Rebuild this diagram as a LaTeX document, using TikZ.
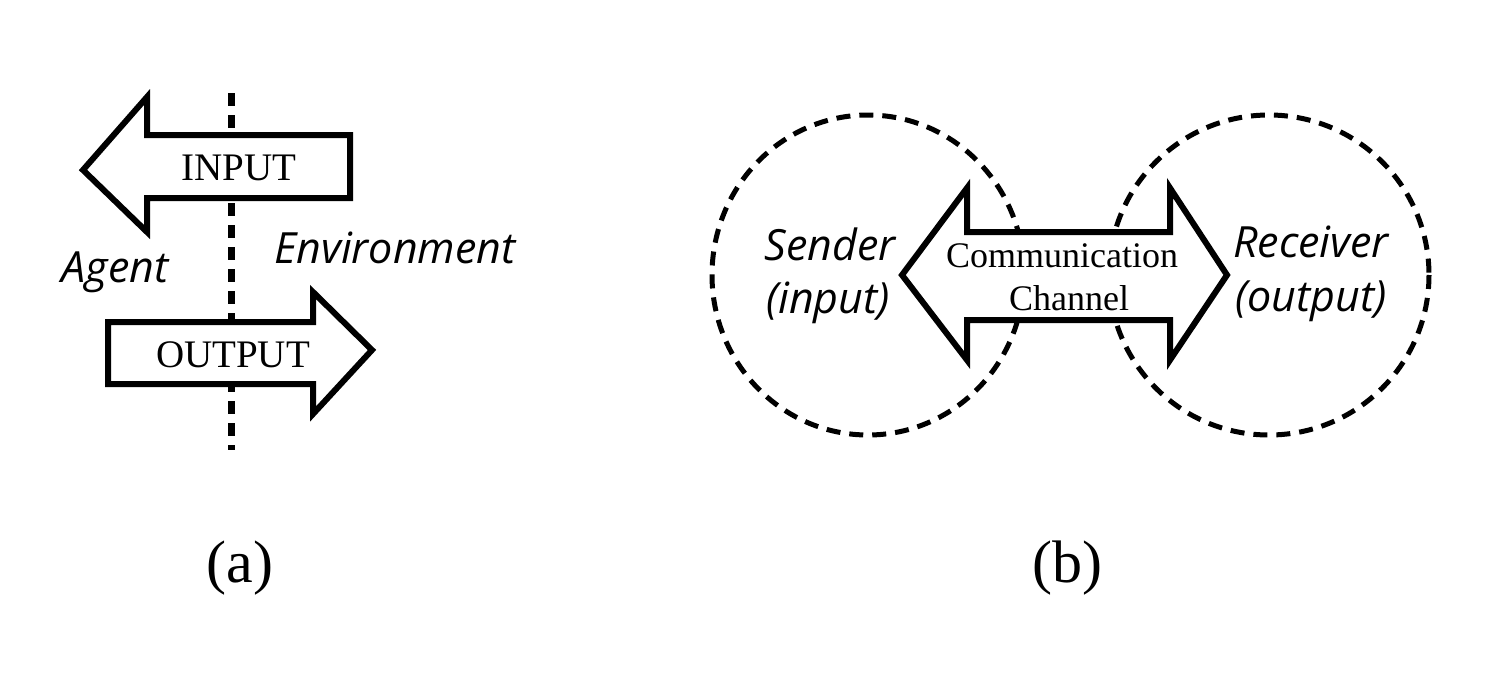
\documentclass[tikz,border=0pt]{standalone}
\usepackage{fontspec}
\setmainfont{Liberation Serif}
\newfontfamily\labfont{Open Sans}
\begin{document}
\begin{tikzpicture}[x=1pt,y=-1pt,
  bigarrow/.style={line width=6pt, line join=miter, fill=white, draw=black},
  sepline/.style={line width=7pt, dash pattern=on 13pt off 9pt},
  zone/.style={line width=5pt, dash pattern=on 14pt off 9pt},
  serlab/.style={font=\fontsize{39}{39}\selectfont, anchor=base, inner sep=0pt},
  itlab/.style={font=\labfont\itshape\fontsize{43}{43}\selectfont, anchor=base, inner sep=0pt},
  chlab/.style={font=\fontsize{36}{36}\selectfont, anchor=base, inner sep=0pt},
  caption/.style={font=\fontsize{60}{60}\selectfont, anchor=base, inner sep=0pt}]
\useasboundingbox (0,0) rectangle (1500,688);
\fill[white] (0,0) rectangle (1500,688);
% ---------- (a) ----------
\coordinate (vtop) at (231,93);
\coordinate (vbot) at (231,450);
\draw[sepline] (vtop) -- (vbot);
\draw[bigarrow] (83,170) -- (147,97) -- (147,135) -- (350,135) -- (350,198) -- (147,198) -- (147,232) -- cycle;
\draw[bigarrow] (372,350) -- (313,292) -- (313,322) -- (108,322) -- (108,384) -- (313,384) -- (313,414) -- cycle;
\node[serlab] (input) at (239,180) {INPUT};
\node[serlab] (output) at (233,367) {OUTPUT};
\node[itlab] (agent) at (115,282) {Agent};
\node[itlab] (env) at (395,263) {Environment};
\node[caption] (capa) at (240,582) {(a)};
% ---------- (b) ----------
\draw[zone] (868,275) ellipse [x radius=156, y radius=160];
\draw[zone] (1269,275) ellipse [x radius=160, y radius=160];
\draw[bigarrow] (902,275) -- (967,188) -- (967,232) -- (1170,232) -- (1170,188) -- (1227,275) -- (1170,360) -- (1170,320) -- (967,320) -- (967,360) -- cycle;
\node[itlab] (sender) at (830,260) {Sender};
\node[itlab] (sin) at (828,313) {(input)};
\node[itlab] (receiver) at (1311,257) {Receiver};
\node[itlab] (rout) at (1311,311) {(output)};
\node[chlab] (comm) at (1062,267) {Communication};
\node[chlab] (chan) at (1069,310) {Channel};
\node[caption] (capb) at (1067,582) {(b)};
\end{tikzpicture}
\end{document}
